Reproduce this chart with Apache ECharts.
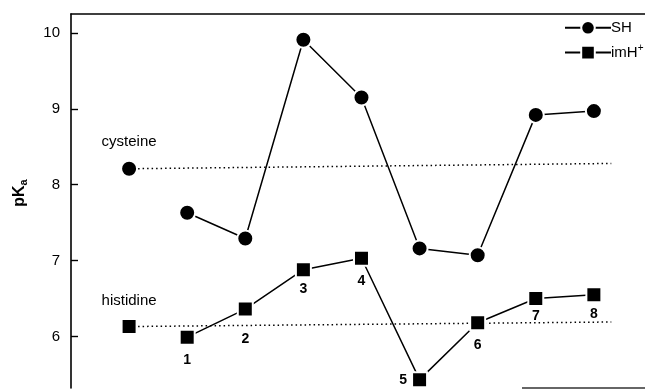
<!DOCTYPE html>
<html>
<head>
<meta charset="utf-8">
<script src="https://cdn.jsdelivr.net/npm/echarts@6/dist/echarts.min.js"></script>
<style>
  html, body { margin: 0; padding: 0; background: #fff; }
  #chart { width: 645px; height: 390px; }
</style>
</head>
<body>
<div id="chart"></div>
<script>
// Site positions along the sequence (0 = free amino acid reference)
const sites = [1, 2, 3, 4, 5, 6, 7, 8];
const siteLabels = ['1', '2', '3', '4', '5', '6', '7', '8'];

// pKa of the thiol (SH) and imidazolium (imH+) groups at each site
const shValues = [7.63, 7.29, 9.91, 9.15, 7.16, 7.07, 8.92, 8.97];
const imhValues = [5.99, 6.36, 6.88, 7.03, 5.43, 6.18, 6.50, 6.55];

// Free amino acid reference pKa values (dotted guide lines)
const cysteineRef = [8.21, 8.28];
const histidineRef = [6.13, 6.19];
const refSpan = [0, 8.3];

// Y-axis tick values
const yTicks = [6, 7, 8, 9, 10];

// Label placement for the site numbers under the imH+ markers
const labelDist = [7, 15, 4, 7, 4, 7, 2, 4];

const FONT = '"Liberation Sans", Arial, sans-serif';

const chart = echarts.init(document.getElementById('chart'));

const shData = sites.map((s, i) => [s, shValues[i]]);
const imhData = sites.map((s, i) => ({
  value: [s, imhValues[i]],
  label: {
    show: true,
    formatter: siteLabels[i],
    position: i === 4 ? 'left' : 'bottom',
    distance: labelDist[i]
  }
}));

function refLine(values, symbol, text, dist) {
  return [
    {
      value: [refSpan[0], values[0]],
      symbol: symbol,
      label: {
        show: true, formatter: text, position: 'top', distance: dist,
        fontFamily: FONT, fontSize: 15, color: '#000', fontWeight: 'normal'
      }
    },
    { value: [refSpan[1], values[1]], symbol: 'none' }
  ];
}

const markerStyle = { color: '#000', borderColor: '#fff', borderWidth: 2 };

chart.setOption({
  animation: false,
  backgroundColor: '#fff',
  grid: { left: 71, right: 0, top: 14, bottom: 2 },
  legend: {
    orient: 'vertical',
    left: 559,
    top: 15,
    itemWidth: 46,
    itemHeight: 17,
    itemGap: 8,
    data: ['SH', 'imH+'],
    textStyle: {
      fontFamily: FONT, fontSize: 15, color: '#000', padding: [0, 0, 0, -5],
      rich: { sup: { fontSize: 10, verticalAlign: 'top', padding: [0, 0, 8, 0] } }
    },
    formatter: name => name === 'imH+' ? 'imH{sup|+}' : name
  },
  xAxis: [
    {
      type: 'value', min: -1, max: 8.88,
      axisLine: { show: false }, axisTick: { show: false },
      axisLabel: { show: false }, splitLine: { show: false }
    },
    {
      type: 'value', min: -1, max: 8.88, position: 'top',
      axisLine: { show: true, onZero: false, lineStyle: { color: '#000', width: 1.6 } },
      axisTick: { show: false }, axisLabel: { show: false }, splitLine: { show: false }
    }
  ],
  yAxis: {
    type: 'value', min: 5.32, max: 10.25,
    name: '{b|pK}{s|a}',
    nameLocation: 'middle',
    nameGap: 42,
    nameTextStyle: {
      padding: [0, 0, 0, 16],
      rich: {
        b: { fontFamily: FONT, fontSize: 16, fontWeight: 'bold', color: '#000' },
        s: { fontFamily: FONT, fontSize: 11, fontWeight: 'bold', color: '#000', verticalAlign: 'bottom', padding: [7, 0, 0, 0] }
      }
    },
    axisLine: { show: true, onZero: false, lineStyle: { color: '#000', width: 1.6 } },
    axisTick: { show: true, inside: true, length: 7, lineStyle: { color: '#000', width: 1.4 }, customValues: yTicks },
    axisLabel: { fontFamily: FONT, fontSize: 15, color: '#000', margin: 11, customValues: yTicks },
    splitLine: { show: false }
  },
  series: [
    {
      name: 'cysteine', type: 'line', z: 1,
      data: refLine(cysteineRef, 'circle', 'cysteine', 10),
      symbolSize: 16,
      itemStyle: markerStyle,
      lineStyle: { color: '#000', width: 1.5, type: [1.5, 3] }
    },
    {
      name: 'histidine', type: 'line', z: 1,
      data: refLine(histidineRef, 'rect', 'histidine', 10),
      symbolSize: 15,
      itemStyle: markerStyle,
      lineStyle: { color: '#000', width: 1.5, type: [1.5, 3] }
    },
    {
      name: 'SH', type: 'line', z: 3,
      data: shData,
      symbol: 'circle', symbolSize: 16,
      itemStyle: markerStyle,
      lineStyle: { color: '#000', width: 1.5 }
    },
    {
      name: 'imH+', type: 'line', z: 3,
      data: imhData,
      symbol: 'rect', symbolSize: 15,
      itemStyle: markerStyle,
      lineStyle: { color: '#000', width: 1.5 },
      label: { fontFamily: FONT, fontSize: 14, fontWeight: 'bold', color: '#000' }
    }
  ],
  graphic: [
    {
      type: 'line', z: 10,
      shape: { x1: 522, y1: 388, x2: 645, y2: 388 },
      style: { stroke: '#333', lineWidth: 1.5 }
    }
  ]
});
</script>
</body>
</html>
